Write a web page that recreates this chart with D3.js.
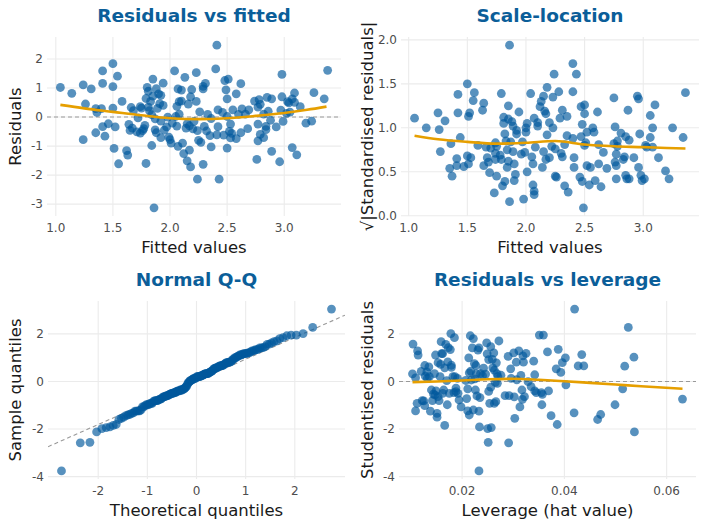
<!DOCTYPE html>
<html><head><meta charset="utf-8">
<script src="https://cdn.jsdelivr.net/npm/d3@7"></script>
<style>
body{margin:0;background:#fff}
svg{display:block}
text{font-family:"DejaVu Sans",sans-serif}
</style>
</head><body>
<svg id="chart" width="704" height="528"></svg>
<script>
// ---------- Panel 1: residuals vs fitted ----------
const fittedValues = [
1.04,1.14,1.24,1.26,1.24,1.31,1.35,1.36,1.35,1.40,
1.41,1.41,1.41,1.43,1.46,1.50,1.50,1.50,1.52,1.51,
1.54,1.55,1.58,1.62,1.63,1.64,1.66,1.65,1.67,1.68,
1.71,1.72,1.74,1.74,1.75,1.76,1.77,1.78,1.79,1.79,
1.80,1.81,1.81,1.82,1.83,1.84,1.84,1.85,1.85,1.86,
1.87,1.87,1.88,1.88,1.89,1.90,1.91,1.92,1.92,1.92,
1.94,1.94,1.95,1.97,1.98,1.99,2.00,2.01,2.02,2.04,
2.05,2.06,2.06,2.07,2.07,2.08,2.08,2.10,2.10,2.11,
2.12,2.13,2.14,2.15,2.15,2.16,2.17,2.17,2.18,2.18,
2.19,2.20,2.21,2.23,2.23,2.24,2.24,2.25,2.26,2.27,
2.29,2.29,2.29,2.30,2.31,2.32,2.33,2.35,2.36,2.36,
2.40,2.41,2.41,2.42,2.42,2.43,2.46,2.47,2.48,2.49,
2.50,2.50,2.50,2.51,2.52,2.53,2.53,2.54,2.55,2.58,
2.58,2.60,2.62,2.62,2.63,2.66,2.68,2.69,2.74,2.76,
2.77,2.77,2.77,2.78,2.79,2.79,2.82,2.82,2.84,2.84,
2.85,2.86,2.88,2.89,2.89,2.93,2.96,2.97,2.98,2.98,
2.99,3.02,3.03,3.04,3.05,3.07,3.07,3.09,3.09,3.11,
3.14,3.19,3.24,3.26,3.35,3.38];
const residualValues = [
1.02,0.82,1.11,0.45,-0.78,0.97,0.29,0.16,-0.54,0.29,
1.59,1.16,-0.33,-0.66,-0.23,1.84,1.05,0.31,-0.34,-1.08,
1.41,-1.61,0.54,-1.16,-1.31,-0.25,0.33,-0.46,-0.38,0.22,
-0.51,-0.03,0.36,-0.55,0.31,-0.47,-0.40,-0.29,0.64,-1.60,
1.02,0.89,0.34,0.22,0.54,0.08,-0.98,1.31,0.72,-3.13,
-0.06,-0.44,-0.54,0.98,0.30,0.80,0.46,-0.14,-0.71,0.75,
0.40,1.17,-0.45,-0.34,0.00,-0.69,-0.78,-0.90,-0.21,1.59,
0.02,0.37,-0.31,-1.01,0.97,0.10,0.53,0.93,0.55,-0.90,
-1.26,1.37,-0.38,-0.23,-1.51,0.45,-1.14,-0.30,0.70,-1.72,
0.95,-0.41,-0.15,1.53,0.54,-0.47,-2.14,-0.80,0.18,-0.87,
-1.63,1.06,0.97,-0.32,1.16,-0.48,0.09,-0.64,-1.03,-0.05,
1.66,2.48,-0.61,0.25,-0.33,-2.14,0.16,-0.62,1.26,0.94,
0.02,0.63,-1.07,1.31,-0.49,-0.24,-0.72,-0.56,0.25,-0.74,
0.80,0.09,-0.54,1.15,0.28,0.10,-0.40,0.25,0.55,-1.46,
0.34,-0.24,-0.82,0.60,-0.60,0.44,0.10,-0.71,-0.32,-0.43,
0.68,0.20,-0.11,0.63,-1.18,-0.34,-1.54,0.24,1.47,0.70,
-0.15,0.13,0.53,0.49,0.17,0.63,-1.05,0.83,0.51,-1.30,
0.36,-0.21,-0.14,0.84,0.63,1.61];
const smooth1X = [1.04,1.25,1.5,1.75,2.0,2.25,2.5,2.75,3.0,3.2,3.37];
const smooth1Y = [0.42,0.30,0.18,0.06,-0.04,-0.07,-0.04,0.04,0.14,0.25,0.36];

// ---------- Panel 2: scale-location ----------
const slFitted = [
1.05,1.15,1.25,1.26,1.27,1.31,1.35,1.36,1.37,1.42,
1.42,1.41,1.41,1.44,1.47,1.50,1.51,1.50,1.51,1.52,
1.53,1.55,1.56,1.59,1.63,1.64,1.64,1.66,1.67,1.68,
1.69,1.70,1.73,1.74,1.74,1.74,1.75,1.75,1.78,1.79,
1.79,1.80,1.81,1.81,1.82,1.82,1.83,1.84,1.84,1.85,
1.85,1.85,1.86,1.86,1.87,1.88,1.89,1.89,1.90,1.90,
1.91,1.92,1.92,1.94,1.96,1.97,1.98,1.99,2.00,2.00,
2.01,2.01,2.04,2.05,2.06,2.06,2.07,2.07,2.07,2.08,
2.10,2.10,2.12,2.13,2.14,2.15,2.15,2.16,2.17,2.17,
2.18,2.18,2.20,2.20,2.22,2.23,2.24,2.23,2.25,2.25,
2.26,2.28,2.29,2.30,2.31,2.31,2.33,2.33,2.35,2.35,
2.36,2.40,2.40,2.40,2.41,2.41,2.43,2.46,2.47,2.47,
2.48,2.48,2.50,2.50,2.50,2.49,2.51,2.52,2.52,2.54,
2.55,2.57,2.58,2.59,2.61,2.62,2.62,2.64,2.66,2.69,
2.75,2.75,2.76,2.76,2.77,2.77,2.77,2.78,2.78,2.81,
2.83,2.84,2.85,2.85,2.86,2.87,2.88,2.88,2.92,2.95,
2.96,2.96,2.97,2.98,2.99,3.01,3.02,3.03,3.06,3.06,
3.08,3.08,3.10,3.13,3.19,3.22,3.25,3.34,3.36];
const slSqrtStd = [
1.11,1.00,1.17,0.98,0.73,1.08,0.54,0.82,0.45,1.38,
1.17,0.65,0.57,0.89,0.56,1.50,1.13,0.68,0.59,1.17,
0.66,1.31,1.40,0.80,1.20,1.28,0.57,0.78,0.66,0.61,
0.49,0.77,0.26,0.83,0.71,0.64,0.45,0.79,0.69,1.39,
0.64,0.34,1.12,1.05,0.39,0.93,0.85,0.75,0.55,1.25,
0.62,1.10,1.94,0.16,0.84,1.07,0.73,1.02,0.59,0.40,
0.47,0.93,0.97,1.18,0.70,0.84,0.19,0.72,0.95,1.00,
0.50,1.05,1.39,0.67,0.59,0.35,0.28,0.24,1.11,0.78,
1.02,1.06,1.24,1.30,0.55,0.73,1.36,1.19,1.16,0.64,
0.92,1.46,1.06,0.66,0.79,1.35,1.61,1.00,0.76,0.45,
0.44,1.41,1.11,0.71,0.67,1.20,0.81,0.34,1.13,0.91,
0.27,1.73,1.41,0.88,0.66,0.55,1.61,0.44,1.24,0.90,
1.04,0.39,1.16,1.26,0.80,0.09,0.83,0.95,0.57,0.35,
0.55,1.00,0.95,0.40,1.18,0.81,0.59,0.33,0.72,0.54,
1.34,0.82,0.61,1.01,0.70,0.57,0.42,0.85,0.79,0.94,
0.64,0.67,0.90,0.46,0.42,1.20,0.42,0.86,0.66,1.36,
1.33,0.55,0.93,0.46,0.40,0.42,0.80,0.78,1.14,0.89,
1.00,0.78,1.26,0.66,0.51,0.42,1.00,0.89,1.40];
const smooth2X = [1.05,1.25,1.5,1.75,2.0,2.25,2.5,2.75,3.0,3.2,3.36];
const smooth2Y = [0.91,0.87,0.84,0.82,0.83,0.85,0.81,0.79,0.78,0.77,0.765];

// ---------- Panel 4: residuals vs leverage ----------
const leverage = [
0.0104,0.0103,0.0109,0.0109,0.0113,0.0114,0.0112,0.0120,0.0122,0.0125,
0.0127,0.0128,0.0127,0.0131,0.0132,0.0135,0.0136,0.0138,0.0140,0.0142,
0.0144,0.0146,0.0147,0.0148,0.0149,0.0151,0.0151,0.0153,0.0153,0.0155,
0.0157,0.0159,0.0158,0.0160,0.0162,0.0162,0.0164,0.0166,0.0166,0.0168,
0.0170,0.0171,0.0172,0.0173,0.0175,0.0177,0.0178,0.0179,0.0179,0.0182,
0.0185,0.0184,0.0186,0.0188,0.0188,0.0191,0.0192,0.0194,0.0198,0.0207,
0.0209,0.0211,0.0211,0.0213,0.0214,0.0214,0.0216,0.0217,0.0218,0.0220,
0.0222,0.0222,0.0224,0.0225,0.0226,0.0227,0.0228,0.0229,0.0231,0.0233,
0.0233,0.0233,0.0234,0.0235,0.0236,0.0240,0.0242,0.0246,0.0248,0.0249,
0.0250,0.0251,0.0252,0.0252,0.0254,0.0256,0.0256,0.0257,0.0259,0.0260,
0.0262,0.0263,0.0263,0.0265,0.0266,0.0267,0.0268,0.0269,0.0270,0.0272,
0.0276,0.0284,0.0290,0.0291,0.0292,0.0295,0.0296,0.0301,0.0302,0.0303,
0.0306,0.0307,0.0311,0.0313,0.0315,0.0317,0.0318,0.0319,0.0320,0.0322,
0.0325,0.0329,0.0335,0.0340,0.0342,0.0342,0.0345,0.0351,0.0355,0.0356,
0.0357,0.0359,0.0367,0.0369,0.0374,0.0384,0.0386,0.0388,0.0393,0.0396,
0.0402,0.0403,0.0419,0.0420,0.0427,0.0434,0.0438,0.0465,0.0471,0.0499,
0.0514,0.0518,0.0525,0.0536,0.0537,0.0631];
const studentised = [
1.57,0.32,0.15,-1.24,1.28,1.11,-0.92,0.42,-0.81,-0.82,
0.67,0.22,-1.02,0.40,0.13,0.61,0.20,-1.25,-0.36,-0.81,
-0.53,0.33,-0.57,1.11,-0.40,-1.34,-1.50,-0.64,0.79,-0.81,
0.20,1.67,0.72,1.17,1.17,-0.50,-0.36,0.57,-1.85,1.56,
0.03,-0.98,0.82,1.42,-0.50,1.34,2.01,0.68,0.59,0.20,
1.84,-0.47,0.20,-0.43,-0.28,0.13,-0.50,-0.78,-1.07,0.04,
-0.72,-0.31,-1.24,0.99,-1.41,0.36,1.92,0.43,0.06,1.41,
1.80,-1.20,0.75,0.11,-0.36,0.67,0.33,-0.61,1.32,1.41,
-3.76,-1.25,-1.91,-0.68,0.33,0.24,0.56,0.31,1.62,1.16,
-1.98,-2.56,-0.42,0.92,-0.92,-0.24,1.46,-1.94,0.93,0.57,
1.20,0.47,-0.92,-0.04,-0.85,0.78,0.33,-0.08,0.20,1.70,
0.26,-0.60,1.05,-2.58,-0.60,0.53,0.13,1.20,-0.65,-1.55,
0.81,0.07,1.28,-1.07,0.25,-0.36,-0.75,1.07,0.81,-0.64,
1.18,-0.01,-0.22,0.85,0.28,-0.40,-0.47,1.95,-0.47,-0.98,
-0.54,1.95,1.24,-0.40,-1.44,0.53,-1.81,1.35,0.38,0.79,
0.99,-0.14,-1.32,3.04,0.65,1.13,0.65,-1.60,-1.39,-0.98,
-0.31,0.64,2.27,1.02,-2.12,-0.74];
const smooth4X = [0.0103,0.015,0.02,0.025,0.03,0.035,0.04,0.045,0.05,0.055,0.0631];
const smooth4Y = [-0.03,0.0,0.04,0.09,0.11,0.07,0.01,-0.06,-0.13,-0.20,-0.31];

// ---------- Panel 3: Q-Q reference line ----------
const qqLineIntercept = 0.02;
const qqLineSlope = 0.915;

// ---------- Titles & tick labels ----------
const panelTitles = ["Residuals vs fitted","Scale-location","Normal Q-Q","Residuals vs leverage"];
const xTitles = ["Fitted values","Fitted values","Theoretical quantiles","Leverage (hat value)"];
const yTitles = ["Residuals","\u221A|Standardised residuals|","Sample quantiles","Studentised residuals"];
const fittedTicks = [1.0,1.5,2.0,2.5,3.0];
const fittedTickLabels = ["1.0","1.5","2.0","2.5","3.0"];
const residTicks = [-3,-2,-1,0,1,2];
const residTickLabels = ["-3","-2","-1","0","1","2"];
const slTicks = [0,0.5,1,1.5,2];
const slTickLabels = ["0.0","0.5","1.0","1.5","2.0"];
const qqXTicks = [-2,-1,0,1,2];
const qqXTickLabels = ["-2","-1","0","1","2"];
const studTicks = [-4,-2,0,2];
const studTickLabels = ["-4","-2","0","2"];
const levTicks = [0.02,0.04,0.06];
const levTickLabels = ["0.02","0.04","0.06"];

// ---------- helpers ----------
function qnorm(p){
  const a=[-3.969683028665376e+01,2.209460984245205e+02,-2.759285104469687e+02,1.383577518672690e+02,-3.066479806614716e+01,2.506628277459239e+00];
  const b=[-5.447609879822406e+01,1.615858368580409e+02,-1.556989798598866e+02,6.680131188771972e+01,-1.328068155288572e+01];
  const c=[-7.784894002430293e-03,-3.223964580411365e-01,-2.400758277161838e+00,-2.549732539343734e+00,4.374664141464968e+00,2.938163982698783e+00];
  const d=[7.784695709041462e-03,3.224671290700398e-01,2.445134137142996e+00,3.754408661907416e+00];
  const pl=0.02425;
  let q,r;
  if(p<pl){q=Math.sqrt(-2*Math.log(p));return (((((c[0]*q+c[1])*q+c[2])*q+c[3])*q+c[4])*q+c[5])/((((d[0]*q+d[1])*q+d[2])*q+d[3])*q+1);}
  if(p>1-pl){q=Math.sqrt(-2*Math.log(1-p));return -(((((c[0]*q+c[1])*q+c[2])*q+c[3])*q+c[4])*q+c[5])/((((d[0]*q+d[1])*q+d[2])*q+d[3])*q+1);}
  q=p-0.5;r=q*q;
  return (((((a[0]*r+a[1])*r+a[2])*r+a[3])*r+a[4])*r+a[5])*q/(((((b[0]*r+b[1])*r+b[2])*r+b[3])*r+b[4])*r+1);
}
function expanded(vals){
  const [lo,hi]=d3.extent(vals); const e=(hi-lo)*0.05; return [lo-e,hi+e];
}

const svg = d3.select("#chart");
const POINT="#00589c", ORANGE="#E69F00", TITLE="#0b5e99";

function panel(o){
  const g = svg.append("g");
  const x = d3.scaleLinear().domain(expanded(o.xs)).range([o.left,o.right]);
  const y = d3.scaleLinear().domain(expanded(o.ys)).range([o.bottom,o.top]);
  const cid = "clip"+o.id;
  g.append("clipPath").attr("id",cid).append("rect")
    .attr("x",o.left).attr("y",o.top).attr("width",o.right-o.left).attr("height",o.bottom-o.top);
  g.selectAll(".gx").data(o.xTicks).join("line")
    .attr("x1",d=>x(d)).attr("x2",d=>x(d)).attr("y1",o.top).attr("y2",o.bottom)
    .attr("stroke","#ebebeb").attr("stroke-width",1.1);
  g.selectAll(".gy").data(o.yTicks).join("line")
    .attr("x1",o.left).attr("x2",o.right).attr("y1",d=>y(d)).attr("y2",d=>y(d))
    .attr("stroke","#ebebeb").attr("stroke-width",1.1);
  g.selectAll(".tx").data(o.xTicks).join("text")
    .attr("x",d=>x(d)).attr("y",o.bottom+16).attr("text-anchor","middle")
    .attr("font-size",12).attr("fill","#4d4d4d").text((d,i)=>o.xLabels[i]);
  g.selectAll(".ty").data(o.yTicks).join("text")
    .attr("x",o.left-4).attr("y",d=>y(d)+4.3).attr("text-anchor","end")
    .attr("font-size",12).attr("fill","#4d4d4d").text((d,i)=>o.yLabels[i]);
  const inner = g.append("g").attr("clip-path",`url(#${cid})`);
  if(o.hline!==undefined){
    inner.append("line").attr("x1",o.left).attr("x2",o.right)
      .attr("y1",y(o.hline)).attr("y2",y(o.hline))
      .attr("stroke","#999").attr("stroke-width",1.1).attr("stroke-dasharray","4,3");
  }
  if(o.abline){
    const [a,b]=o.abline; const [x0,x1]=x.domain();
    inner.append("line").attr("x1",x(x0)).attr("x2",x(x1))
      .attr("y1",y(a+b*x0)).attr("y2",y(a+b*x1))
      .attr("stroke","#999").attr("stroke-width",1.1).attr("stroke-dasharray","4,3");
  }
  inner.selectAll("circle").data(o.xs.map((v,i)=>[v,o.ys[i]])).join("circle")
    .attr("cx",d=>x(d[0])).attr("cy",d=>y(d[1])).attr("r",4.4)
    .attr("fill",POINT).attr("fill-opacity",0.66);
  if(o.sx){
    inner.append("path").datum(o.sx.map((v,i)=>[v,o.sy[i]]))
      .attr("d",d3.line().x(d=>x(d[0])).y(d=>y(d[1])).curve(d3.curveMonotoneX))
      .attr("fill","none").attr("stroke",ORANGE).attr("stroke-width",2.6);
  }
  g.append("text").attr("x",(o.left+o.right)/2).attr("y",o.py+22).attr("text-anchor","middle")
    .attr("font-size",18.5).attr("font-weight","bold").attr("fill",TITLE).text(o.title);
  g.append("text").attr("x",(o.left+o.right)/2).attr("y",o.bottom+37).attr("text-anchor","middle")
    .attr("font-size",16.5).attr("fill","#1a1a1a").text(o.xTitle);
  g.append("text").attr("transform",`translate(${o.px+21},${(o.top+o.bottom)/2}) rotate(-90)`)
    .attr("text-anchor","middle").attr("font-size",16.5).attr("fill","#1a1a1a").text(o.yTitle);
}

// Q-Q: sorted studentised residuals against normal quantiles
const sampleQ = studentised.slice().sort((a,b)=>a-b);
const nQ = sampleQ.length;
const theoQ = sampleQ.map((v,i)=>qnorm((i+1-0.5)/nQ));

panel({id:1,px:0,py:0,left:47,right:341,top:37,bottom:216,xs:fittedValues,ys:residualValues,
  xTicks:fittedTicks,xLabels:fittedTickLabels,yTicks:residTicks,yLabels:residTickLabels,
  hline:0,sx:smooth1X,sy:smooth1Y,title:panelTitles[0],xTitle:xTitles[0],yTitle:yTitles[0]});
panel({id:2,px:352,py:0,left:401,right:699,top:37,bottom:216,xs:slFitted,ys:slSqrtStd,
  xTicks:fittedTicks,xLabels:fittedTickLabels,yTicks:slTicks,yLabels:slTickLabels,
  sx:smooth2X,sy:smooth2Y,title:panelTitles[1],xTitle:xTitles[1],yTitle:yTitles[1]});
panel({id:3,px:0,py:264,left:48,right:345,top:301,bottom:479,xs:theoQ,ys:sampleQ,
  xTicks:qqXTicks,xLabels:qqXTickLabels,yTicks:studTicks,yLabels:studTickLabels,
  abline:[qqLineIntercept,qqLineSlope],title:panelTitles[2],xTitle:xTitles[2],yTitle:yTitles[2]});
panel({id:4,px:352,py:264,left:399,right:696,top:301,bottom:479,xs:leverage,ys:studentised,
  xTicks:levTicks,xLabels:levTickLabels,yTicks:studTicks,yLabels:studTickLabels,
  hline:0,sx:smooth4X,sy:smooth4Y,title:panelTitles[3],xTitle:xTitles[3],yTitle:yTitles[3]});
</script>
</body></html>
